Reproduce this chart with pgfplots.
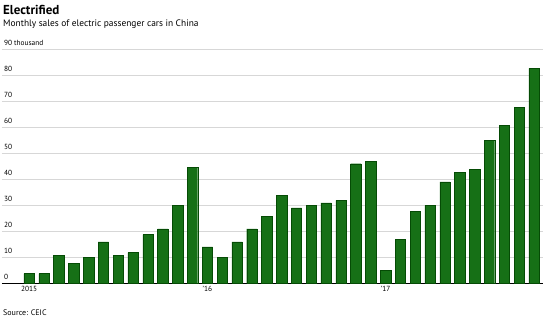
\documentclass[border=0pt]{standalone}
\usepackage{pgfplots}
\pgfplotsset{compat=1.18}
\usepackage{fontspec}
\setmainfont{PT Sans}
\definecolor{barfill}{RGB}{22,112,22}
\definecolor{baredge}{RGB}{5,75,5}
\definecolor{gridc}{RGB}{215,215,215}
\begin{document}
\begin{tikzpicture}[x=1pt,y=1pt]
\useasboundingbox (0,0) rectangle (546,319);
\begin{axis}[
  at={(2pt,35.7pt)}, anchor=south west,
  scale only axis, width=541pt, height=234pt,
  xmin=-1.83, xmax=34.6, ymin=0, ymax=90,
  axis x line*=bottom, axis y line*=left,
  y axis line style={draw=none},
  x axis line style={black, line width=0.9pt},
  ytick={0,10,...,90},
  yticklabels={0,10,20,30,40,50,60,70,80,90 thousand},
  ymajorgrids, grid style={gridc, line width=0.6pt},
  major tick length=0pt,
  xtick={0,12,24}, xticklabels={2015,{'}16,{'}17},
  xtick style={black, line width=0.6pt},
  x tick label style={font=\fontsize{7.4}{8}\selectfont, yshift=1pt},
  yticklabel style={font=\fontsize{7.4}{8}\selectfont, anchor=south west, xshift=-1.5pt, yshift=0.3pt},
  /pgf/number format/assume math mode=true,
  clip=false,
]
\addplot[ybar, bar width=0.7, fill=barfill, draw=baredge, line width=0.4pt] coordinates {
(0,3.7) (1,3.7) (2,10.8) (3,7.8) (4,9.9) (5,15.9) (6,10.8) (7,11.8) (8,18.7) (9,20.9) (10,30.0) (11,44.7)
(12,14.0) (13,9.9) (14,15.9) (15,20.9) (16,25.8) (17,33.8) (18,29.0) (19,30.0) (20,30.9) (21,31.9) (22,46.0) (23,46.9)
(24,5.0) (25,16.9) (26,27.8) (27,30.0) (28,39.0) (29,42.8) (30,43.7) (31,55.0) (32,60.8) (33,67.8) (34,82.7)
};
\end{axis}
\node[anchor=base west, inner sep=0, font=\bfseries\fontsize{13}{15}\selectfont] at (3,304.3) {Electrified};
\node[anchor=base west, inner sep=0, font=\fontsize{9.4}{11}\selectfont] at (3,292.3) {Monthly sales of electric passenger cars in China};
\node[anchor=base west, inner sep=0, font=\fontsize{8}{9}\selectfont] at (3,4) {Source: CEIC};
\end{tikzpicture}
\end{document}
